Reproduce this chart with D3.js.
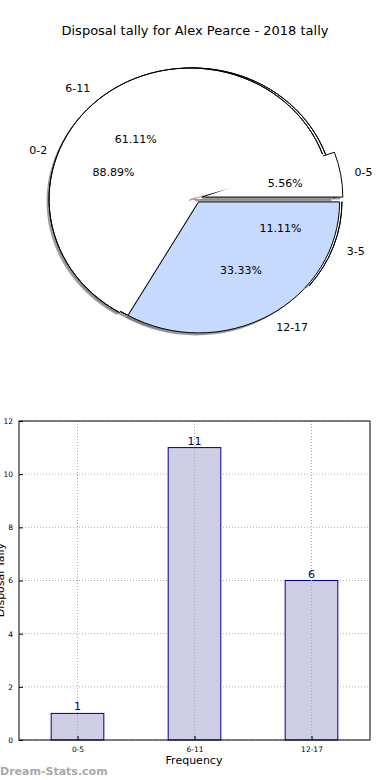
<!DOCTYPE html>
<html>
<head>
<meta charset="utf-8">
<script src="https://cdn.jsdelivr.net/npm/d3@7"></script>
<style>
  body { margin: 0; background: #fff; }
  svg { display: block; font-family: "DejaVu Sans", sans-serif; }
</style>
</head>
<body>
<div class="chart"></div>
<script>
// pie data - two pies drawn on top of each other
const innerLabels = ['0-2', '3-5'];
const innerValues = [16, 2];
const outerLabels = ['0-5', '6-11', '12-17'];
const outerValues = [1, 11, 6];

// bar data
const barLabels = ['0-5', '6-11', '12-17'];
const barValues = [1, 11, 6];
const yTicks = [0, 2, 4, 6, 8, 10, 12];

const w = 390, h = 780;

const svg = d3.select('.chart')
  .append('svg')
  .attr('width', w)
  .attr('height', h);

svg.append('text')
  .attr('x', 195)
  .attr('y', 35)
  .attr('text-anchor', 'middle')
  .style('font-size', '13px')
  .text('Disposal tally for Alex Pearce - 2018 tally');

// ---- pie ----
const cx = 190, cy = 199, rx = 141, ry = 131;

// matplotlib style: start at 3 o'clock, go counter clockwise
const pie = d3.pie()
  .sort(null)
  .startAngle(Math.PI / 2)
  .endAngle(Math.PI / 2 - 2 * Math.PI);

const arc = d3.arc().innerRadius(0).outerRadius(1);
const rim = d3.arc().innerRadius(1).outerRadius(1);

const fmt = v => v.toFixed(2) + '%';

function drawPie(values, labels, colors, styles, shift) {
  const total = d3.sum(values);
  const arcs = pie(values);
  const g = svg.append('g');

  // position of each wedge (explode + shift)
  const pos = arcs.map((a, i) => {
    const m = (a.startAngle + a.endAngle) / 2;
    const s = styles[i];
    const dir = s.angle !== undefined ? s.angle : m;
    return {
      x: cx + shift + Math.sin(dir) * s.d * rx,
      y: cy - Math.cos(dir) * s.d * ry,
      m: m
    };
  });
  const tf = (i, dx, dy) => `translate(${pos[i].x + dx},${pos[i].y + dy}) scale(${rx},${ry})`;

  // shadow
  g.selectAll('path.shadow')
    .data(arcs)
    .enter()
    .append('path')
    .attr('class', 'shadow')
    .attr('d', arc)
    .attr('transform', (d, i) => tf(i, -2.5, 2.5))
    .style('fill', '#7a7a7a')
    .style('opacity', 0.75);

  arcs.forEach((a, i) => {
    const s = styles[i];
    const padded = Object.assign({}, a, {startAngle: a.startAngle + (s.pad || 0)});
    g.append('path')
      .attr('d', arc(padded))
      .attr('transform', tf(i, 0, 0))
      .attr('vector-effect', 'non-scaling-stroke')
      .style('fill', colors[i])
      .style('stroke', s.stroke === 'full' ? '#000' : 'none')
      .style('stroke-width', 1)
      .style('stroke-linejoin', 'round');
    if (s.stroke === 'arc') {
      g.append('path')
        .attr('d', rim(a))
        .attr('transform', tf(i, 0, 0))
        .attr('vector-effect', 'non-scaling-stroke')
        .style('fill', 'none')
        .style('stroke', '#000')
        .style('stroke-width', 1);
    }
  });

  return arcs.map((a, i) => ({
    label: labels[i],
    pct: fmt(values[i] / total * 100),
    p: pos[i]
  }));
}

const innerText = drawPie(innerValues, innerLabels, ['#fff', '#fff'],
  [{d: 0, stroke: 'arc'}, {d: 0.06, stroke: 'arc'}], 3);
const outerText = drawPie(outerValues, outerLabels, ['#fff', '#fff', '#c6daff'],
  [{d: 0.085, stroke: 'full'},
   {d: 0, stroke: 'arc', pad: 0.07},
   {d: 0.065, angle: Math.PI / 2 + Math.PI / 9, stroke: 'full'}], 0);

const textLayer = svg.append('g').style('font-size', '11px');
innerText.concat(outerText).forEach(t => {
  const sx = Math.sin(t.p.m), sy = -Math.cos(t.p.m);
  textLayer.append('text')
    .attr('x', t.p.x + sx * 0.6 * rx)
    .attr('y', t.p.y + sy * 0.6 * ry)
    .attr('dy', '0.35em')
    .attr('text-anchor', 'middle')
    .text(t.pct);
  textLayer.append('text')
    .attr('x', t.p.x + sx * 1.1 * rx)
    .attr('y', t.p.y + sy * 1.1 * ry)
    .attr('dy', '0.35em')
    .attr('text-anchor', sx < 0 ? 'end' : 'start')
    .text(t.label);
});

// ---- bar chart ----
const plotL = 19, plotR = 370, plotT = 421, plotB = 740;

const x = d3.scalePoint()
  .domain(barLabels)
  .range([plotL, plotR])
  .padding(0.5);

const y = d3.scaleLinear()
  .domain([0, 12])
  .range([plotB, plotT]);

const bw = x.step() * 0.45;

const grid = svg.append('g')
  .style('stroke', '#b0b0b0')
  .style('stroke-dasharray', '1,2');

grid.selectAll('line.gy')
  .data(yTicks)
  .enter()
  .append('line')
  .attr('x1', plotL).attr('x2', plotR)
  .attr('y1', d => y(d)).attr('y2', d => y(d));

svg.selectAll('rect.bar')
  .data(barValues)
  .enter()
  .append('rect')
  .attr('class', 'bar')
  .attr('x', (d, i) => x(barLabels[i]) - bw / 2)
  .attr('y', d => y(d))
  .attr('width', bw)
  .attr('height', d => plotB - y(d))
  .style('fill', '#cdcde6')
  .style('stroke', '#000080')
  .style('stroke-width', 1);

const gridV = svg.append('g')
  .style('stroke', '#a8a8a8')
  .style('stroke-dasharray', '1,2');

gridV.selectAll('line')
  .data(barLabels)
  .enter()
  .append('line')
  .attr('x1', d => x(d)).attr('x2', d => x(d))
  .attr('y1', plotT).attr('y2', plotB);

svg.selectAll('text.val')
  .data(barValues)
  .enter()
  .append('text')
  .attr('class', 'val')
  .attr('x', (d, i) => x(barLabels[i]))
  .attr('y', d => y(d) - 3)
  .attr('text-anchor', 'middle')
  .style('font-size', '11px')
  .style('fill', '#000080')
  .text(d => d);

// frame
svg.append('rect')
  .attr('x', plotL).attr('y', plotT)
  .attr('width', plotR - plotL).attr('height', plotB - plotT)
  .style('fill', 'none')
  .style('stroke', '#000')
  .style('stroke-width', 1);

const yAxis = d3.axisLeft(y)
  .tickValues(yTicks)
  .tickSizeInner(-4)
  .tickSizeOuter(0)
  .tickPadding(6);

svg.append('g')
  .attr('transform', `translate(${plotL},0)`)
  .call(yAxis)
  .call(g => g.select('.domain').remove())
  .call(g => g.selectAll('text').style('font-size', '7.5px').style('font-family', '"DejaVu Sans", sans-serif'));

const xAxis = d3.axisBottom(x)
  .tickSizeInner(-4)
  .tickSizeOuter(0)
  .tickPadding(7);

svg.append('g')
  .attr('transform', `translate(0,${plotB})`)
  .call(xAxis)
  .call(g => g.select('.domain').remove())
  .call(g => g.selectAll('text').style('font-size', '7.5px').style('font-family', '"DejaVu Sans", sans-serif'));

svg.append('text')
  .attr('x', 194)
  .attr('y', 764)
  .attr('text-anchor', 'middle')
  .style('font-size', '11px')
  .text('Frequency');

// y label sits mostly past the left edge, as in the original
svg.append('text')
  .attr('transform', 'translate(4,580) rotate(-90)')
  .attr('text-anchor', 'middle')
  .style('font-size', '11px')
  .text('Disposal Tally');

svg.append('text')
  .attr('x', 0)
  .attr('y', 775)
  .style('font-size', '11px')
  .style('font-weight', 'bold')
  .style('fill', '#a8a8a8')
  .text('Dream-Stats.com');
</script>
</body>
</html>
